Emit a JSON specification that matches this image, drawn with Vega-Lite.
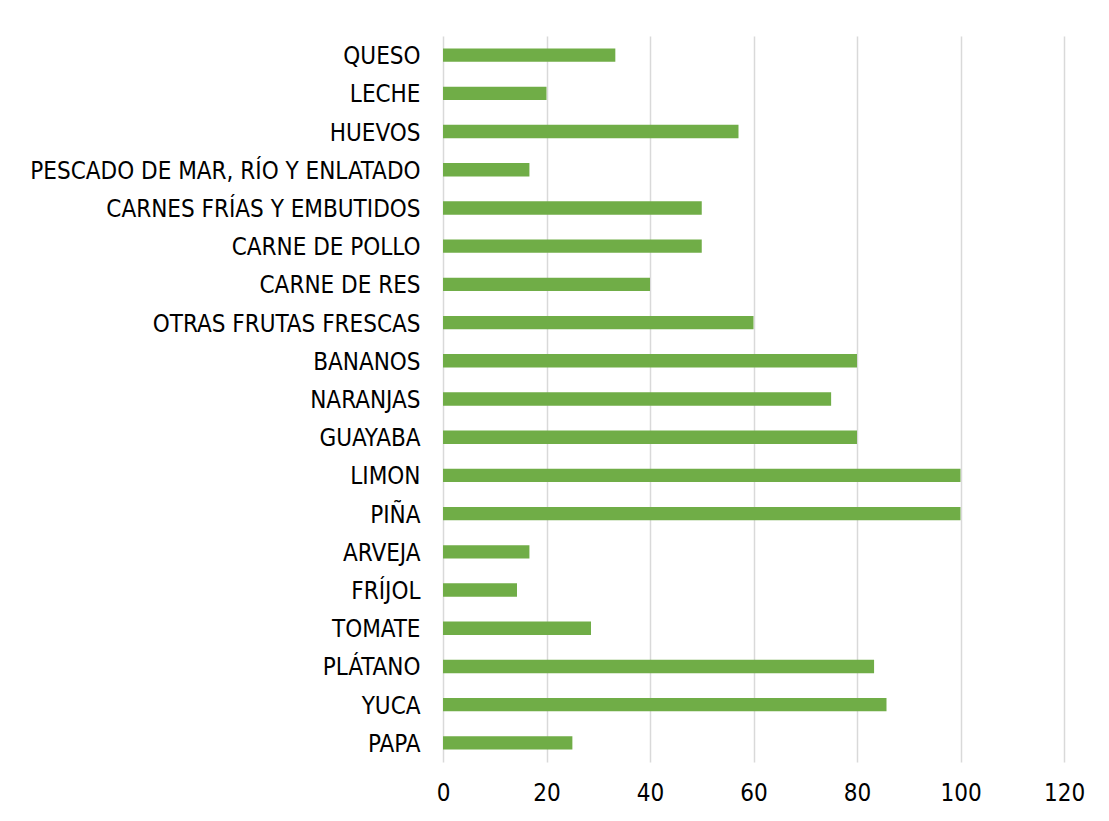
{
  "$schema": "https://vega.github.io/schema/vega-lite/v6.json",
  "autosize": {"type": "none"},
  "width": 621,
  "height": 726,
  "padding": {"left": 443, "top": 36, "right": 45, "bottom": 59},
  "background": "white",
  "config": {
    "view": {"stroke": null},
    "font": "DejaVu Sans Condensed, Arial Narrow, sans-serif",
    "axis": {"labelFont": "DejaVu Sans Condensed, Arial Narrow, sans-serif", "labelColor": "#000000"}
  },
  "data": {
    "values": [
      {"alimento": "QUESO", "valor": 33.3},
      {"alimento": "LECHE", "valor": 20},
      {"alimento": "HUEVOS", "valor": 57.1},
      {"alimento": "PESCADO DE MAR, RÍO Y ENLATADO", "valor": 16.7},
      {"alimento": "CARNES FRÍAS Y EMBUTIDOS", "valor": 50},
      {"alimento": "CARNE DE POLLO", "valor": 50},
      {"alimento": "CARNE DE RES", "valor": 40},
      {"alimento": "OTRAS FRUTAS FRESCAS", "valor": 60},
      {"alimento": "BANANOS", "valor": 80},
      {"alimento": "NARANJAS", "valor": 75},
      {"alimento": "GUAYABA", "valor": 80},
      {"alimento": "LIMON", "valor": 100},
      {"alimento": "PIÑA", "valor": 100},
      {"alimento": "ARVEJA", "valor": 16.7},
      {"alimento": "FRÍJOL", "valor": 14.3},
      {"alimento": "TOMATE", "valor": 28.6},
      {"alimento": "PLÁTANO", "valor": 83.3},
      {"alimento": "YUCA", "valor": 85.7},
      {"alimento": "PAPA", "valor": 25}
    ]
  },
  "mark": {"type": "bar", "color": "#70ad47"},
  "encoding": {
    "y": {
      "field": "alimento",
      "type": "nominal",
      "sort": null,
      "scale": {"paddingInner": 0.65, "paddingOuter": 0.325},
      "axis": {
        "title": null,
        "domain": false,
        "ticks": false,
        "labelFontSize": 24,
        "labelPadding": 23,
        "labelOffset": 2,
        "labelLimit": 500
      }
    },
    "x": {
      "field": "valor",
      "type": "quantitative",
      "scale": {"domain": [0, 120], "nice": false},
      "axis": {
        "title": null,
        "values": [0, 20, 40, 60, 80, 100, 120],
        "domain": false,
        "ticks": false,
        "grid": true,
        "gridColor": "#d9d9d9",
        "gridWidth": 1.5,
        "labelFlush": false,
        "labelFontSize": 24,
        "labelPadding": 19
      }
    }
  }
}
